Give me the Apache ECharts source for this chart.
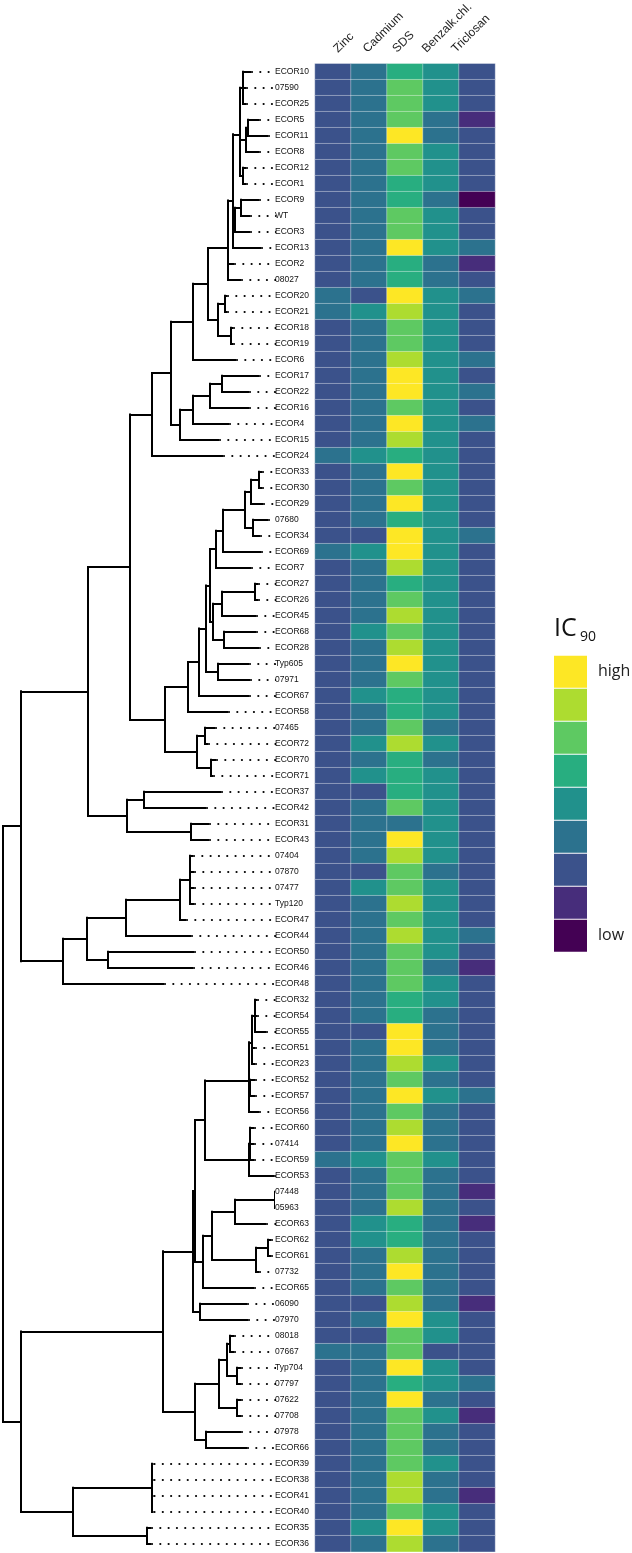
<!DOCTYPE html>
<html><head><meta charset="utf-8">
<script src="https://cdn.jsdelivr.net/npm/echarts@6/dist/echarts.min.js"></script>
<style>html,body{margin:0;padding:0;background:#fff}#c{width:632px;height:1553px}</style>
</head><body><div id="c"></div>
<script>
// ---- leaf labels (top to bottom) ----
const labels = ['ECOR10','07590','ECOR25','ECOR5','ECOR11','ECOR8','ECOR12','ECOR1','ECOR9','WT',
'ECOR3','ECOR13','ECOR2','08027','ECOR20','ECOR21','ECOR18','ECOR19','ECOR6','ECOR17',
'ECOR22','ECOR16','ECOR4','ECOR15','ECOR24','ECOR33','ECOR30','ECOR29','07680','ECOR34',
'ECOR69','ECOR7','ECOR27','ECOR26','ECOR45','ECOR68','ECOR28','Typ605','07971','ECOR67',
'ECOR58','07465','ECOR72','ECOR70','ECOR71','ECOR37','ECOR42','ECOR31','ECOR43','07404',
'07870','07477','Typ120','ECOR47','ECOR44','ECOR50','ECOR46','ECOR48','ECOR32','ECOR54',
'ECOR55','ECOR51','ECOR23','ECOR52','ECOR57','ECOR56','ECOR60','07414','ECOR59','ECOR53',
'07448','05963','ECOR63','ECOR62','ECOR61','07732','ECOR65','06090','07970','08018',
'07667','Typ704','07797','07622','07708','07978','ECOR66','ECOR39','ECOR38','ECOR41',
'ECOR40','ECOR35','ECOR36'];

// ---- tip depth of each leaf (tree distance units) ----
const tipDepth = [250,245,245,258,267,258,245,245,258,249,
249,260,233,240,226,226,232,232,235,258,
248,248,228,218,222,261,261,262,267,259,
260,250,257,257,255,255,258,248,249,248,
227,214,207,215,212,220,205,208,208,192,
193,193,193,185,190,193,192,163,256,256,
265,254,254,254,254,258,253,253,253,273,
276,276,265,270,270,258,253,246,247,233,
233,240,240,240,240,240,246,152.5,152.5,152.5,
152.5,150,150];
const alignDepth = 276;

// ---- tree topology: [node depth, children...]; a number is a leaf index ----
const cladeA = [240, [243, 0, 1, 2], [246, [248, 3, 4], 5], [243, 6, 7]];
const cladeB = [235, [241, 8, 9], 10];
const cladeE = [228, [233, cladeA, cladeB, 11], 12, 13];
const cladeV1 = [152, [171, [193, [208, cladeE, [218, [225, 14, 15], [231, 16, 17]]], 18],
                            [180, [193, [210, [222, 19, 20], 21], 22], 23]], 24];
const cladeV2 = [165, [188, [199, [206, [210, [216, [223, [245, [251, [259, 25, 26], 27], [253, 28, 29]], 30], 31],
                                         [213, [222, [255, 32, 33], 34], [224, 35, 36]]],
                                   [218, 37, 38]], 39], 40],
                      [197, [205, 41, 42], [211, 43, 44]]];
const cladeU = [21, [88, [130, cladeV1, cladeV2], [127, [144, 45, 46], [191, 47, 48]]],
                    [63, [87, [126, [180, [190, 49, 50, 51, 52], 53], 54], [108, 55, 56]], 57]];
const cladeM = [193, [195, [205, [249, [252, [255, 58, 59, 60], 61, 62], [250, 63, 64], 65],
                                 [249, [250, 66, 67, 68], 69]],
                          [203, [212, [235, [275, 70, 71], 72], [256, [268, 73, 74], 75]], 76]],
                     [200, 77, 78]];
const cladeR = [195, [219, [227, [230, 79, 80], [237, 81, 82]], [237, 83, 84]], [206, 85, 86]];
const cladeL = [21, [163, cladeM, cladeR], [73, [152, 87, 88, 89, 90], [147, 91, 92]]];
const tree = [3, cladeU, cladeL];

// ---- heatmap ----
const columns = ['Zinc', 'Cadmium', 'SDS', 'Benzalk.chl.', 'Triclosan'];
const zinc = [3,3,3,3,3,3,3,3,3,3, 3,3,3,3,4,4,3,3,3,3, 3,3,3,3,4,3,3,3,3,3,
 4,3,3,3,3,3,3,3,3,3, 3,3,3,3,3,3,3,3,3,3, 3,3,3,3,3,3,3,3,3,3,
 3,3,3,3,3,3,3,3,4,3, 3,3,3,3,3,3,3,3,3,3, 4,3,3,3,3,3,3,3,3,3, 3,3,3];
const cadmium = [4,4,4,4,4,4,4,4,4,4, 4,4,4,4,3,5,4,4,4,4, 4,4,4,4,5,4,4,4,4,3,
 5,4,4,4,4,5,4,4,4,5, 4,4,5,4,5,3,4,4,4,4, 3,5,4,4,4,4,4,4,4,4,
 3,4,4,4,4,4,4,4,5,4, 4,4,5,5,4,4,4,3,4,3, 4,4,4,4,4,4,4,4,4,4, 4,5,4];
const sds = [6,7,7,7,9,7,7,6,6,7, 7,9,6,6,9,8,7,7,8,9, 9,7,9,8,6,9,7,9,6,9,
 9,8,6,7,8,7,8,9,7,6, 6,7,8,6,6,6,7,4,9,8, 7,7,8,7,8,7,7,7,6,6,
 9,9,8,7,9,7,8,9,7,7, 7,8,6,6,8,9,7,8,9,7, 7,9,6,9,7,7,7,7,8,8, 7,9,8];
const benzalk = [5,5,5,4,4,5,5,5,4,5, 5,5,4,4,5,5,5,5,5,5, 5,5,5,5,5,5,5,5,5,5,
 5,5,5,5,5,5,5,5,5,5, 5,4,5,4,5,5,5,5,5,5, 4,5,5,5,5,5,4,5,5,4,
 4,4,5,4,5,4,4,4,5,4, 4,4,4,4,4,4,4,4,5,5, 3,5,5,4,5,4,4,5,4,4, 5,5,4];
const triclosan = [3,3,3,2,3,3,3,3,1,3, 3,4,2,3,4,3,3,3,4,3, 4,3,4,3,3,3,3,3,3,4,
 3,3,3,3,3,3,3,3,3,3, 3,3,3,3,3,3,3,3,3,3, 3,3,3,3,4,3,2,3,3,3,
 3,3,3,3,4,3,3,3,3,3, 2,3,2,3,3,3,3,2,3,3, 3,3,4,3,2,3,3,3,3,2, 3,3,3];
const levels = [9, 8, 7, 6, 5, 4, 3, 2, 1];
const levelNames = ['high', '', '', '', '', '', '', '', 'low'];
const levelColors = ['#fde725', '#addc30', '#5ec962', '#28ae80', '#21918c', '#2c728e', '#3b528b', '#472d7b', '#440154'];

// ---- build tree segments in data space ----
const branchSegs = [], dotSegs = [];
function walk(node) {
  if (typeof node === 'number') return { x: tipDepth[node], y: node };
  const x = node[0];
  const kids = node.slice(1).map(walk);
  const ys = kids.map(k => k.y);
  branchSegs.push({ coords: [[x, Math.min(...ys)], [x, Math.max(...ys)]] });
  kids.forEach(k => branchSegs.push({ coords: [[x, k.y], [k.x, k.y]] }));
  return { x, y: ys.reduce((a, b) => a + b, 0) / ys.length };
}
walk(tree);
labels.forEach((_, i) => {
  if (tipDepth[i] < alignDepth - 2) dotSegs.push({ coords: [[tipDepth[i] + 2, i], [alignDepth, i]] });
});

const heat = [];
[zinc, cadmium, sds, benzalk, triclosan].forEach((arr, c) => arr.forEach((v, r) => heat.push([c, r, v])));

const TOP = 63.7, ROWH = 16, N = labels.length;
const FONT = '"Liberation Sans", Arial, sans-serif';
const chart = echarts.init(document.getElementById('c'), null, { renderer: 'canvas' });
chart.setOption({
  animation: false,
  backgroundColor: '#fff',
  grid: [
    { left: 0, top: TOP, width: 274, height: ROWH * N },
    { left: 315, top: TOP, width: 180, height: ROWH * N }
  ],
  xAxis: [
    { gridIndex: 0, type: 'value', min: 0, max: 274, show: false },
    { gridIndex: 1, type: 'category', data: columns, position: 'top',
      axisLine: { show: false }, axisTick: { show: false }, splitLine: { show: false },
      axisLabel: { show: false } }
  ],
  yAxis: [
    { gridIndex: 0, type: 'value', min: -0.5, max: N - 0.5, inverse: true, show: false },
    { gridIndex: 1, type: 'category', data: labels, inverse: true,
      axisLine: { show: false }, axisTick: { show: false }, splitLine: { show: false },
      axisLabel: { interval: 0, align: 'left', margin: 40, fontSize: 8.5, color: '#111', fontFamily: FONT } }
  ],
  visualMap: {
    type: 'piecewise', seriesIndex: 2, orient: 'vertical', align: 'left',
    left: 554, top: 655.7, padding: 0,
    itemWidth: 33, itemHeight: 32, itemGap: 1, itemSymbol: 'rect', textGap: 11,
    selectedMode: false, hoverLink: false,
    textStyle: { fontSize: 16, color: '#222', fontFamily: '"Open Sans", sans-serif' },
    pieces: levels.map((v, i) => ({ value: v, label: levelNames[i] || ' ', color: levelColors[i] }))
  },
  series: [
    { type: 'lines', coordinateSystem: 'cartesian2d', xAxisIndex: 0, yAxisIndex: 0, silent: true,
      data: branchSegs, lineStyle: { color: '#000', width: 2, opacity: 1, cap: 'square' } },
    { type: 'lines', coordinateSystem: 'cartesian2d', xAxisIndex: 0, yAxisIndex: 0, silent: true,
      data: dotSegs, lineStyle: { color: '#000', width: 2.2, opacity: 1, type: [0.01, 8.3], cap: 'round' } },
    { type: 'heatmap', xAxisIndex: 1, yAxisIndex: 1, data: heat, silent: true,
      itemStyle: { borderColor: 'rgba(255,255,255,0.45)', borderWidth: 0.8 },
      emphasis: { disabled: true } }
  ]
});

// column header labels (rotated 45°, anchored from the heatmap's own x scale)
const headerShift = -6.5;   // labels in the original are spaced slightly tighter than the columns
const headers = columns.map((name, c) => {
  const px = chart.convertToPixel({ xAxisIndex: 1 }, c);
  return { type: 'text', x: px + 7 + headerShift * c, y: 55, rotation: Math.PI / 4, silent: true,
           style: { text: name, font: '12px ' + FONT, fill: '#222', align: 'left', verticalAlign: 'bottom' } };
});
chart.setOption({
  graphic: headers.concat([
    { type: 'text', left: 554, top: 616, silent: true, style: { text: 'IC', font: '25px "Open Sans"', fill: '#111' } },
    { type: 'text', left: 580, top: 630, silent: true, style: { text: '90', font: '14px "Open Sans"', fill: '#111' } }
  ])
});
</script></body></html>
